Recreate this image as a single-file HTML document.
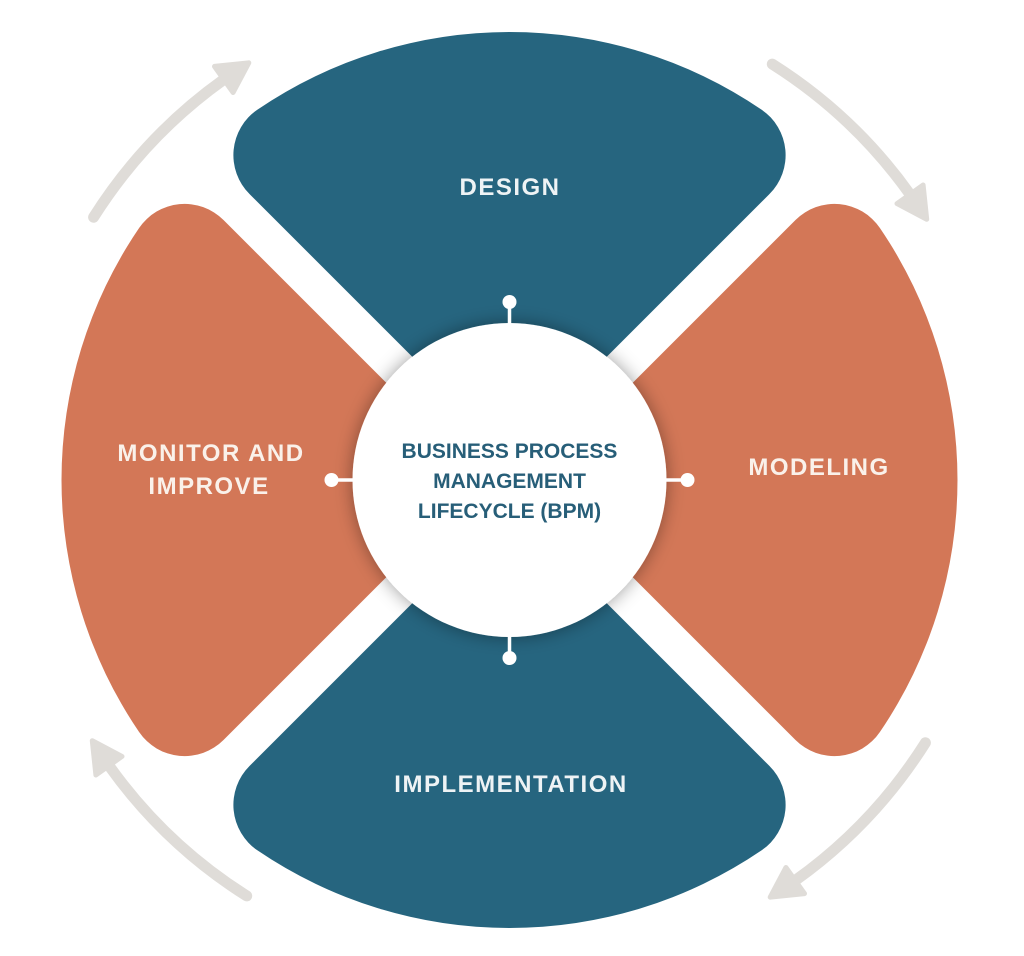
<!DOCTYPE html>
<html>
<head>
<meta charset="utf-8">
<style>
  html, body { margin: 0; padding: 0; background: #ffffff; }
  body { width: 1024px; height: 956px; overflow: hidden; }
  svg { display: block; }
  .lbl { font-family: "Liberation Sans", Arial, sans-serif; font-weight: bold; font-size: 24px; letter-spacing: 1.5px; text-anchor: middle; }
  .ctr { font-family: "Liberation Sans", Arial, sans-serif; font-weight: bold; font-size: 21px; fill: #275e78; text-anchor: middle; }
</style>
</head>
<body>
<svg width="1024" height="956" viewBox="0 0 1024 956" xmlns="http://www.w3.org/2000/svg">
  <defs>
    <filter id="sh" x="-40%" y="-40%" width="180%" height="180%">
      <feDropShadow dx="0" dy="0" stdDeviation="9" flood-color="#000" flood-opacity="0.38"/>
    </filter>
    <path id="petal" d="M0 -26 L-260 -286 A55 55 0 0 1 -252 -370.4 A448 448 0 0 1 252 -370.4 A55 55 0 0 1 260 -286 Z"/>
    <g id="arrow">
      <path d="M-415.9 -262.8 A492 492 0 0 1 -285.7 -400.5" fill="none" stroke="#dfdcd8" stroke-width="11" stroke-linecap="round"/>
      <polygon points="-295,-413.6 -260.7,-417.2 -276.4,-387.5" fill="#dfdcd8" stroke="#dfdcd8" stroke-width="5" stroke-linejoin="round"/>
    </g>
  </defs>
  <rect width="1024" height="956" fill="#ffffff"/>
  <g transform="translate(509.5 480)">
    <!-- arrows -->
    <use href="#arrow"/>
    <use href="#arrow" transform="rotate(90)"/>
    <use href="#arrow" transform="rotate(180)"/>
    <use href="#arrow" transform="rotate(270)"/>
    <!-- petals -->
    <use href="#petal" fill="#26657f"/>
    <use href="#petal" fill="#26657f" transform="rotate(180)"/>
    <use href="#petal" fill="#d37757" transform="rotate(90)"/>
    <use href="#petal" fill="#d37757" transform="rotate(-90)"/>
    <!-- center circle -->
    <circle cx="0" cy="0" r="157" fill="#ffffff" filter="url(#sh)"/>
    <!-- connector dots -->
    <g stroke="#ffffff" stroke-width="3.5">
      <line x1="0" y1="-150" x2="0" y2="-178"/>
      <line x1="0" y1="150" x2="0" y2="178"/>
      <line x1="-150" y1="0" x2="-178" y2="0"/>
      <line x1="150" y1="0" x2="178" y2="0"/>
    </g>
    <g fill="#ffffff">
      <circle cx="0" cy="-178" r="7"/>
      <circle cx="0" cy="178" r="7"/>
      <circle cx="-178" cy="0" r="7"/>
      <circle cx="178" cy="0" r="7"/>
    </g>
  </g>
  <!-- labels -->
  <text class="lbl" x="510" y="195" fill="#eef3f5">DESIGN</text>
  <text class="lbl" x="819" y="475" fill="#faf1ea">MODELING</text>
  <text class="lbl" x="211" y="461" fill="#faf1ea">MONITOR AND</text>
  <text class="lbl" x="209" y="494" fill="#faf1ea">IMPROVE</text>
  <text class="lbl" x="511" y="792" fill="#eef3f5">IMPLEMENTATION</text>
  <!-- center text -->
  <text class="ctr" x="509.5" y="458">BUSINESS PROCESS</text>
  <text class="ctr" x="509.5" y="488">MANAGEMENT</text>
  <text class="ctr" x="509.5" y="518">LIFECYCLE (BPM)</text>
</svg>
</body>
</html>
